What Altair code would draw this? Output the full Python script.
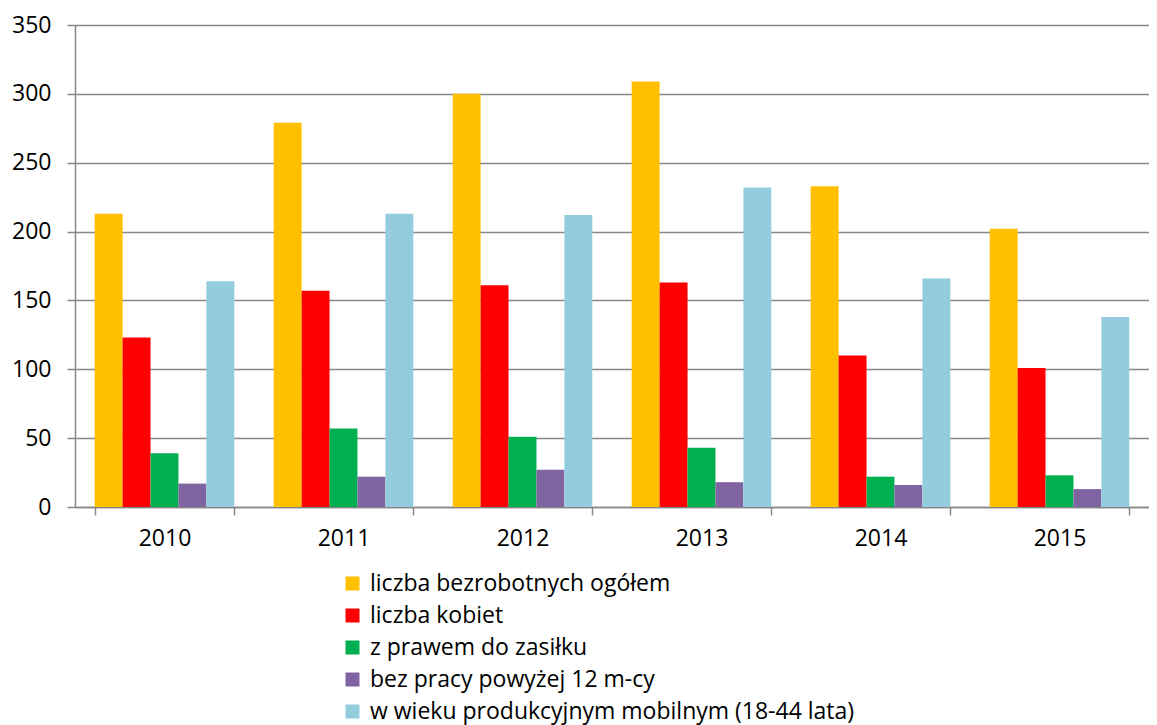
import altair as alt
import pandas as pd

years = ["2010", "2011", "2012", "2013", "2014", "2015"]
series = [
    "liczba bezrobotnych ogółem",
    "liczba kobiet",
    "z prawem do zasiłku",
    "bez pracy powyżej 12 m-cy",
    "w wieku produkcyjnym mobilnym (18-44 lata)",
]
ogolem = [213, 279, 300, 309, 233, 202]
kobiety = [123, 157, 161, 163, 110, 101]
zasilek = [39, 57, 51, 43, 22, 23]
powyzej12 = [17, 22, 27, 18, 16, 13]
mobilni = [164, 213, 212, 232, 166, 138]
colors = ["#FFC000", "#FF0000", "#00B050", "#8064A2", "#93CDDD"]

rows = []
for name, vals in zip(series, [ogolem, kobiety, zasilek, powyzej12, mobilni]):
    for y, v in zip(years, vals):
        rows.append({"rok": y, "seria": name, "wartosc": v})
df = pd.DataFrame(rows)

FONT = "Open Sans"
GRID = "#878787"
FS = 23

chart = (
    alt.Chart(df)
    .mark_bar()
    .encode(
        x=alt.X(
            "rok:N",
            sort=years,
            scale=alt.Scale(paddingInner=0.22, paddingOuter=0.11),
            axis=alt.Axis(
                title=None,
                labelAngle=0,
                tickBand="extent",
                grid=False,
                domainColor=GRID,
                domainWidth=1.5,
                tickColor=GRID,
                tickWidth=1.5,
                tickSize=8,
                labelFontSize=FS,
                labelColor="black",
                labelFont=FONT,
                labelPadding=12,
            ),
        ),
        xOffset=alt.XOffset(
            "seria:N", sort=series, scale=alt.Scale(paddingInner=0, paddingOuter=0)
        ),
        y=alt.Y(
            "wartosc:Q",
            scale=alt.Scale(domain=[0, 350], nice=False),
            axis=alt.Axis(
                title=None,
                values=list(range(0, 351, 50)),
                grid=True,
                gridColor=GRID,
                gridWidth=1.5,
                domainColor=GRID,
                domainWidth=1.5,
                tickColor=GRID,
                tickWidth=1.5,
                tickSize=8,
                labelFontSize=FS,
                labelColor="black",
                labelFont=FONT,
                labelPadding=16,
            ),
        ),
        color=alt.Color(
            "seria:N",
            sort=series,
            scale=alt.Scale(domain=series, range=colors),
            legend=alt.Legend(
                title=None,
                orient="none",
                legendX=266,
                legendY=547,
                symbolType="square",
                symbolSize=196,
                symbolStrokeWidth=0,
                labelFontSize=FS,
                labelFont=FONT,
                labelColor="black",
                labelLimit=700,
                rowPadding=8,
                labelOffset=6,
            ),
        ),
    )
    .properties(
        width=1074,
        height=482,
        autosize=alt.AutoSizeParams(type="none"),
        padding={"left": 67, "top": 17, "right": 0, "bottom": 218},
    )
    .configure_view(stroke=None)
    .configure(font=FONT)
)

chart.save("out.html", embed_options={"renderer": "svg", "actions": False})
